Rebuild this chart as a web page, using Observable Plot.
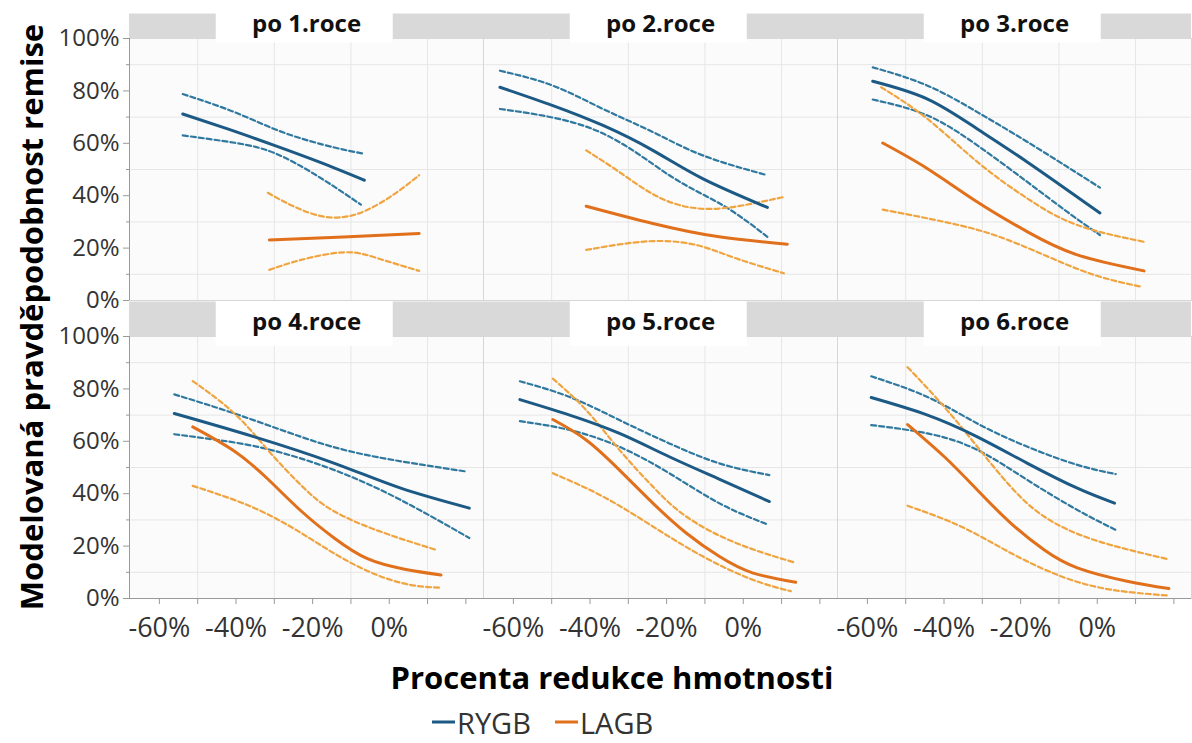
<!DOCTYPE html>
<html>
<head>
<meta charset="utf-8">
<script src="https://cdn.jsdelivr.net/npm/d3@7"></script>
<script src="https://cdn.jsdelivr.net/npm/@observablehq/plot@0.6"></script>
<style>
  html, body { margin: 0; padding: 0; background: #ffffff; }
  #wrap { position: relative; width: 1192px; height: 743px; overflow: hidden; font-family: "Open Sans", sans-serif; }
  #chart { position: absolute; left: 0; top: 0; }
  #ytitle { position: absolute; left: 31px; top: 317px; transform: translate(-50%, -50%) rotate(-90deg); white-space: nowrap;
            font-weight: 700; font-size: 31px; line-height: 1; color: #000; }
  #xtitle { position: absolute; left: 612px; top: 677px; transform: translate(-50%, -50%); white-space: nowrap;
            font-weight: 700; font-size: 31px; line-height: 1; color: #000; }
  #legend { position: absolute; left: 432px; top: 722px; transform: translateY(-50%); display: flex; align-items: center; font-size: 29px; line-height: 1; color: #333; }
  #legend .sw { display: inline-block; width: 23px; height: 3px; margin-right: 2px; }
  #legend .item { display: flex; align-items: center; margin-right: 24px; }
</style>
</head>
<body>
<div id="wrap">
  <div id="chart"></div>
  <div id="ytitle">Modelovaná pravděpodobnost remise</div>
  <div id="xtitle">Procenta redukce hmotnosti</div>
  <div id="legend"></div>
</div>
<script>
// ---------- data (x = % weight reduction, y = modelled remission probability %) ----------
const panels = ["po 1.roce", "po 2.roce", "po 3.roce", "po 4.roce", "po 5.roce", "po 6.roce"];
const seriesNames = ["RYGB", "LAGB"];
const yTicks = [0, 20, 40, 60, 80, 100];
const yMinor = [10, 30, 50, 70, 90];
const xTicks = [-60, -40, -20, 0];
const xMinor = [-50, -30, -10, 10, 20];
const xDomain = [-67.8, 24.6];

const rygbFit = [
  [[-53.9,71.2],[-42,65.4],[-30,59.2],[-18,52.7],[-6.5,45.9]],
  [[-63.5,81.4],[-49.7,74.4],[-36.6,66.8],[-23.6,57.3],[-10.6,46.5],[6.3,35.5]],
  [[-58.6,83.7],[-44.3,76.9],[-31.3,65.5],[-18.2,52.8],[0.7,33.4]],
  [[-56.1,70.6],[-35.2,61.7],[-14.3,51.6],[3.0,42.1],[20.9,34.5]],
  [[-58.3,75.9],[-45.3,70.0],[-32.3,63.0],[-19.3,54.1],[-6.3,45.6],[6.8,37.0]],
  [[-59,76.7],[-44.3,70.0],[-31.3,61.7],[-18.2,51.6],[-5.2,42.1],[4.5,36.4]]
];
const rygbHigh = [
  [[-53.9,78.8],[-40.4,71.9],[-27.4,64.0],[-14.3,58.4],[-6.5,56.0]],
  [[-63.5,87.7],[-49.7,82.0],[-36.6,73.1],[-23.6,64.3],[-10.6,55.4],[6.3,47.8]],
  [[-58.6,89.0],[-44.3,82.0],[-31.3,71.9],[-18.2,60.5],[0.7,43.1]],
  [[-56.1,77.9],[-40.4,70.6],[-23,61.7],[-5.7,54.7],[20.4,48.4]],
  [[-58.3,82.9],[-45.3,76.9],[-32.3,68.1],[-19.3,59.2],[-6.3,51.6],[6.8,47.1]],
  [[-59,84.8],[-44.3,76.9],[-31.3,66.8],[-18.2,57.9],[-5.2,51.0],[4.8,47.5]]
];
const rygbLow = [
  [[-53.9,63.0],[-40.4,60.2],[-30,56.3],[-18.7,47.5],[-7.4,36.6]],
  [[-63.5,73.1],[-38.4,64.9],[-19.3,47.8],[-5.4,36.4],[6.3,24.3]],
  [[-58.6,76.7],[-44.3,70.6],[-31.3,59.2],[-18.2,45.2],[-7.8,33.8],[0.7,25.0]],
  [[-56.1,62.7],[-44.8,60.5],[-31.7,57.0],[-14.3,49.0],[3.0,37.6],[20.9,23.1]],
  [[-58.3,67.7],[-45.3,64.3],[-32.3,57.9],[-19.3,47.8],[-6.3,36.4],[5.9,28.5]],
  [[-59,66.2],[-44.3,63.0],[-31.3,56.7],[-18.2,45.2],[-5.2,33.8],[4.8,26.2]]
];
const lagbFit = [
  [[-31.3,23.1],[-12,24.2],[7.8,25.6]],
  [[-41,36.0],[-23.6,29.4],[-6.3,24.3],[11.5,21.5]],
  [[-56,60.1],[-44.3,50.3],[-31.3,37.6],[-18.2,26.2],[-5.2,17.4],[12.2,11.3]],
  [[-51.3,65.5],[-40.4,56.2],[-31.7,45.6],[-23,33.4],[-14.3,23.0],[-5.7,15.2],[4,11.2],[13.5,9.0]],
  [[-49.7,68.3],[-41,60.5],[-32.3,49.0],[-23.6,36.4],[-14.9,25.0],[-6.3,16.1],[2.4,9.8],[13.7,6.2]],
  [[-49.5,66.4],[-39.9,54.1],[-31.3,41.4],[-22.6,28.8],[-13.9,18.6],[-5.2,11.7],[7.8,6.6],[18.7,3.8]]
];
const lagbHigh = [
  [[-31.7,41.1],[-24.8,35.8],[-17.8,32.2],[-11.7,31.9],[-5.7,34.6],[1.3,40.6],[7.8,47.8]],
  [[-41,57.3],[-32.3,49.0],[-23.6,40.6],[-14.9,35.8],[-6.3,35.1],[2.4,37.0],[10.6,39.5]],
  [[-56.4,81.4],[-44.3,69.3],[-31.3,52.9],[-18.2,38.9],[-5.2,28.8],[12.2,22.4]],
  [[-51.3,83.0],[-40.4,70.6],[-31.7,56.7],[-23,43.2],[-14.3,33.2],[-1.3,25.0],[12.2,18.6]],
  [[-49.7,83.9],[-41,71.9],[-32.3,56.7],[-23.6,42.7],[-14.9,31.3],[-1.9,21.2],[13.7,13.6]],
  [[-49.5,88.3],[-39.9,73.1],[-31.3,57.9],[-22.6,42.7],[-13.9,31.3],[-0.9,22.4],[18.2,15.1]]
];
const lagbLow = [
  [[-31.3,11.7],[-23,15.5],[-11.7,18.4],[-3,16.1],[7.8,11.3]],
  [[-41,19.3],[-32.3,21.4],[-22.7,22.7],[-12.3,21.2],[-1.9,16.1],[10.6,10.4]],
  [[-56,34.7],[-39.9,30.0],[-26.9,25.0],[-13.9,17.4],[-0.9,9.8],[11.3,5.3]],
  [[-51.3,43.0],[-36.1,35.1],[-23,25.0],[-10,13.6],[3,6.0],[13.5,4.1]],
  [[-49.7,47.8],[-36.6,38.9],[-23.6,27.5],[-10.6,16.1],[2.4,7.2],[12.4,2.8]],
  [[-49.5,35.4],[-35.6,27.5],[-22.6,17.4],[-9.5,8.5],[3.5,3.4],[18.7,1.1]]
];

// ---------- build table ----------
const colors = { RYGB: { fit: "#1c5a85", ci: "#2f789f" }, LAGB: { fit: "#e1701c", ci: "#f0a440" } };
const sources = [
  ["RYGB", "low", rygbLow], ["RYGB", "high", rygbHigh],
  ["LAGB", "low", lagbLow], ["LAGB", "high", lagbHigh],
  ["RYGB", "fit", rygbFit], ["LAGB", "fit", lagbFit]
];
const rows = [];
for (const [series, kind, arr] of sources) {
  arr.forEach((pts, i) => {
    pts.forEach(([x, y]) => rows.push({ panel: i, col: i % 3, row: Math.floor(i / 3), series, kind, key: `${series}-${kind}-${i}`, x, y }));
  });
}
const ciRows = rows.filter(d => d.kind !== "fit");
const fitRows = rows.filter(d => d.kind === "fit");
const facets = panels.map((label, i) => ({ label, col: i % 3, row: Math.floor(i / 3) }));
const yMax = yTicks[yTicks.length - 1];
const span = xDomain[1] - xDomain[0];
const boxX1 = xDomain[0] + 0.245 * span, boxX2 = xDomain[0] + 0.745 * span;

const pct = d => `${d}%`;

const chart = Plot.plot({
  width: 1192, height: 649,
  marginLeft: 128, marginRight: 0, marginTop: 37, marginBottom: 50,
  style: { fontFamily: "Open Sans, sans-serif", background: "transparent", overflow: "visible" },
  fx: { domain: [0, 1, 2], paddingInner: 0, paddingOuter: 0, axis: null },
  fy: { domain: [0, 1], paddingInner: 0.1204, paddingOuter: 0, axis: null },
  x: { domain: xDomain },
  y: { domain: [0, yMax] },
  marks: [
    Plot.frame({ fill: "#fbfbfb" }),
    Plot.gridX(xMinor.slice(0, 4), { stroke: "#e6e6e6", strokeOpacity: 1 }),
    Plot.gridY(yMinor, { stroke: "#e6e6e6", strokeOpacity: 1 }),
    Plot.frame({ stroke: "#d6d6d6" }),
    // strips
    Plot.ruleY(facets.filter(d => d.row === 0), { y: () => yMax, fx: "col", fy: "row", stroke: "#d9d9d9", strokeWidth: 25, dy: -12.5 }),
    Plot.ruleY(facets.filter(d => d.row === 1), { y: () => yMax, fx: "col", fy: "row", stroke: "#d9d9d9", strokeWidth: 35, dy: -17.5 }),
    Plot.ruleY(facets.filter(d => d.row === 0), { y: () => yMax, x1: () => boxX1, x2: () => boxX2, fx: "col", fy: "row", stroke: "#ffffff", strokeWidth: 33, dy: -12.5 }),
    Plot.ruleY(facets.filter(d => d.row === 1), { y: () => yMax, x1: () => boxX1, x2: () => boxX2, fx: "col", fy: "row", stroke: "#ffffff", strokeWidth: 45, dy: -13 }),
    Plot.text(facets, { fx: "col", fy: "row", text: "label", frameAnchor: "top", lineAnchor: "middle", dy: -14, fontWeight: 700, fontSize: 24, fill: "#111" }),
    // axes
    Plot.axisY({ ticks: yTicks, tickFormat: pct, fontSize: 24, tickSize: 6, tickPadding: 4, stroke: "#999", fill: "#333", label: null }),
    Plot.axisY({ ticks: yMinor, tickFormat: null, text: null, tickSize: 3, stroke: "#999", label: null }),
    Plot.axisX({ ticks: xTicks, tickFormat: pct, fontSize: 27, tickSize: 6, tickPadding: 13, stroke: "#999", fill: "#333", label: null }),
    Plot.axisX({ ticks: xMinor, text: null, tickSize: 6, stroke: "#999", label: null }),
    Plot.ruleX(facets.filter(d => d.col === 0), { x: () => xDomain[0], fx: "col", fy: "row", stroke: "#999" }),
    Plot.ruleY(facets.filter(d => d.row === 1), { y: () => 0, fx: "col", fy: "row", stroke: "#999" }),
    // curves
    Plot.line(ciRows, { x: "x", y: "y", z: "key", fx: "col", fy: "row", stroke: d => colors[d.series].ci, strokeWidth: 2.2, strokeDasharray: "5,3", curve: "natural" }),
    Plot.line(fitRows, { x: "x", y: "y", z: "key", fx: "col", fy: "row", stroke: d => colors[d.series].fit, strokeWidth: 3, curve: "natural" })
  ]
});
document.getElementById("chart").appendChild(chart);

const legend = document.getElementById("legend");
for (const s of seriesNames) {
  const item = document.createElement("div");
  item.className = "item";
  item.innerHTML = `<span class="sw" style="background:${colors[s].fit}"></span><span>${s}</span>`;
  legend.appendChild(item);
}
</script>
</body>
</html>
